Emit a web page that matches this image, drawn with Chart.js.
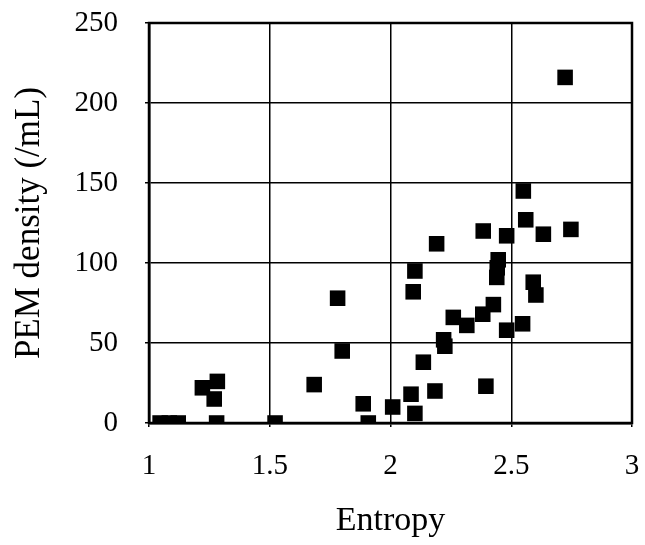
<!DOCTYPE html>
<html>
<head>
<meta charset="utf-8">
<script src="https://cdn.jsdelivr.net/npm/chart.js@4/dist/chart.umd.min.js"></script>
<style>
  html, body { margin: 0; padding: 0; background: #fff; }
  #wrap { width: 645px; height: 545px; }
</style>
</head>
<body>
<div id="wrap"><canvas id="chart"></canvas></div>
<script>
// entropy vs PEM density
const entropy = [1.046, 1.084, 1.121, 1.28, 1.522, 1.908, 1.221, 1.283, 1.27, 1.684, 1.781, 1.80, 1.887,
    2.009, 2.101, 2.085, 2.184, 2.395, 2.136, 2.22, 2.225, 2.26, 2.316, 2.382, 2.426, 2.481, 2.547,
    2.094, 2.101, 2.44, 2.442, 2.446, 2.591, 2.602, 2.191, 2.384, 2.481, 2.633, 2.747, 2.56, 2.55, 2.723];
const density = [0, 0, 0, 0, 0, 0, 22, 26, 15, 24, 78, 45, 12,
    10, 6, 18, 20, 23, 38, 52, 48, 66, 61, 68, 74, 58, 62,
    82, 95, 91, 97, 102, 88, 80, 112, 120, 117, 118, 121, 127, 145, 216];
const xTicks = [1, 1.5, 2, 2.5, 3];
const yTicks = [0, 50, 100, 150, 200, 250];

const points = entropy.map(function(v, i) { return { x: v, y: density[i] }; });

const frame = {
    id: 'frame',
    afterDraw(chart) {
        const a = chart.chartArea;
        const ctx = chart.ctx;
        ctx.save();
        ctx.strokeStyle = '#000';
        ctx.lineWidth = 2.5;
        ctx.strokeRect(a.left, a.top, a.right - a.left, a.bottom - a.top);
        ctx.restore();
    }
};

const serif = '"Liberation Serif", "Times New Roman", serif';
const tickFont = { family: serif, size: 29 };

new Chart(document.getElementById('chart'), {
    type: 'scatter',
    data: {
        datasets: [{
            data: points,
            pointStyle: 'rect',
            pointRadius: 11,
            pointHoverRadius: 11,
            backgroundColor: '#000',
            borderWidth: 0
        }]
    },
    options: {
        responsive: true,
        maintainAspectRatio: false,
        animation: false,
        layout: { padding: { top: 23, right: 13, left: 0, bottom: 0 } },
        plugins: { legend: { display: false }, tooltip: { enabled: false } },
        scales: {
            x: {
                type: 'linear',
                min: 1,
                max: 3,
                afterBuildTicks: function(s) { s.ticks = xTicks.map(function(v) { return { value: v }; }); },
                afterFit: function(s) {
                    s.height = 122;
                    s.paddingLeft = 0;
                    s.paddingRight = 0;
                },
                grid: { color: '#000', lineWidth: 1.5, tickLength: 4 },
                border: { color: '#000', width: 2.5 },
                ticks: { color: '#000', font: tickFont, padding: 22, maxRotation: 0,
                    callback: function(v) { return String(v); } },
                title: { display: true, text: 'Entropy', color: '#000',
                    font: { family: serif, size: 34 }, padding: { top: 4 } }
            },
            y: {
                min: 0,
                max: 250,
                afterBuildTicks: function(s) { s.ticks = yTicks.map(function(v) { return { value: v }; }); },
                afterFit: function(s) {
                    s.width = 149;
                    s.paddingTop = 0;
                    s.paddingBottom = 0;
                },
                grid: { color: '#000', lineWidth: 1.5, tickLength: 4 },
                border: { color: '#000', width: 2.5 },
                ticks: { color: '#000', font: tickFont, padding: 27 },
                title: { display: true, text: 'PEM density (/mL)', color: '#000',
                    font: { family: serif, size: 35 }, padding: { top: 9, bottom: 0 } }
            }
        }
    },
    plugins: [frame]
});
</script>
</body>
</html>
